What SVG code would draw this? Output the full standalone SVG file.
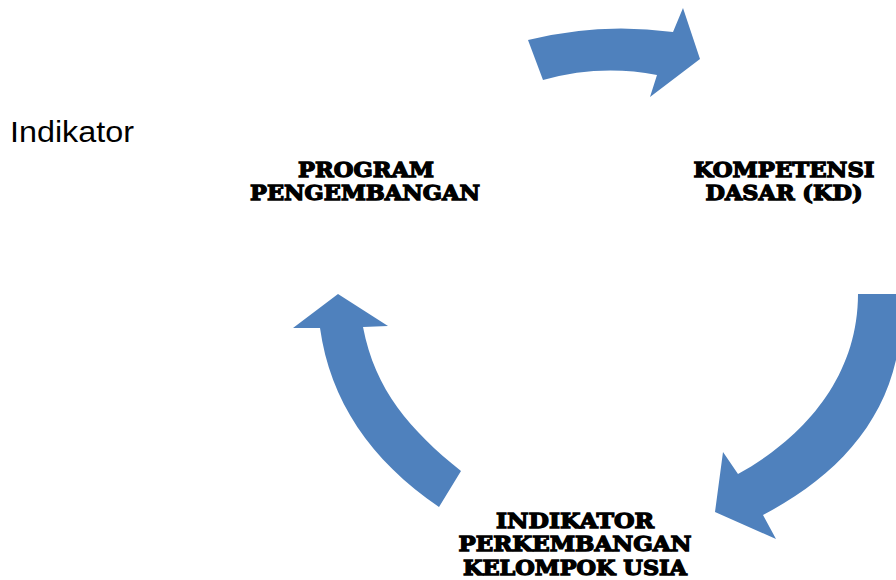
<svg xmlns="http://www.w3.org/2000/svg" width="896" height="580" viewBox="0 0 896 580">
<style>
.arrow{fill:#4F81BD;stroke:none}
.lbl{font-family:"DejaVu Serif","Liberation Serif",serif;font-weight:bold;font-size:21px;fill:#000;stroke:#000;stroke-width:1.3;text-anchor:middle}
.title{font-family:"Liberation Sans","DejaVu Sans",sans-serif;font-size:30px;fill:#000}
</style>
<rect width="896" height="580" fill="#fff"/>
<text class="title" x="10" y="142" textLength="124" lengthAdjust="spacingAndGlyphs">Indikator</text>
<g id="connectors">
<path class="arrow" d="M528,40 Q600,22 673,32 L683,8 L700,59 L650,97 L657,75 Q600,64 543,80 Z"/>
<path class="arrow" d="M858,294 L896,294 L896,360 C880,430 830,480 763,515 L776,539 L715,512 L723,452 L738,474 C800,440 858,380 858,294 Z"/>
<path class="arrow" d="M439,507 C370,460 330,400 320,328 L293,328 L338,294 L388,326 L363,327 C375,390 410,430 461,471 Z"/>
</g>
<g id="program">
<text class="lbl" x="366" y="177" textLength="136" lengthAdjust="spacingAndGlyphs">PROGRAM</text>
<text class="lbl" x="365" y="200" textLength="230" lengthAdjust="spacingAndGlyphs">PENGEMBANGAN</text>
</g>
<g id="kd">
<text class="lbl" x="784" y="177" textLength="181" lengthAdjust="spacingAndGlyphs">KOMPETENSI</text>
<text class="lbl" x="784" y="200" textLength="157" lengthAdjust="spacingAndGlyphs">DASAR (KD)</text>
</g>
<g id="indikator">
<text class="lbl" x="575" y="528" textLength="158" lengthAdjust="spacingAndGlyphs">INDIKATOR</text>
<text class="lbl" x="575" y="551" textLength="233" lengthAdjust="spacingAndGlyphs">PERKEMBANGAN</text>
<text class="lbl" x="575" y="575" textLength="224" lengthAdjust="spacingAndGlyphs">KELOMPOK USIA</text>
</g>
</svg>
